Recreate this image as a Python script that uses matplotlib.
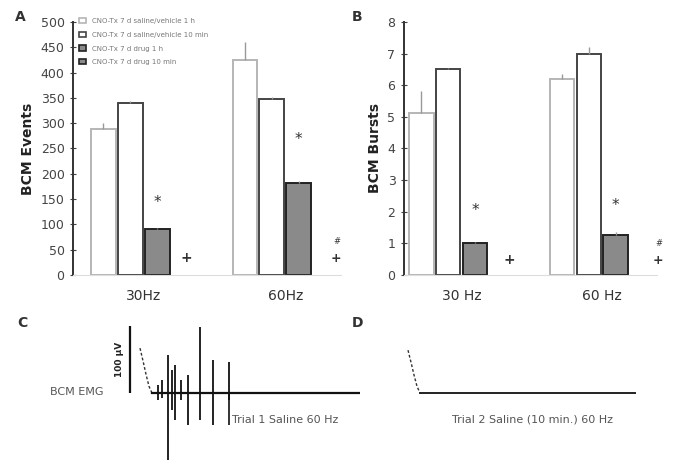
import matplotlib.pyplot as plt
from matplotlib.patches import Patch
import numpy as np

# bar data: 4 conditions x 2 frequencies
conditions = ["CNO-Tx 7 d saline/vehicle 1 h", "CNO-Tx 7 d saline/vehicle 10 min",
              "CNO-Tx 7 d drug 1 h", "CNO-Tx 7 d drug 10 min"]
events = [[288, 340, 90, 0], [424, 348, 182, 0]]
events_err = [[12, 4, 3, 0], [36, 4, 3, 0]]
bursts = [[5.13, 6.5, 1.0, 0], [6.2, 7.0, 1.27, 0]]
bursts_err = [[0.7, 0.05, 0.05, 0], [0.15, 0.2, 0.1, 0]]
labels_a = ["30Hz", "60Hz"]
labels_b = ["30 Hz", "60 Hz"]

# EMG trace (panel C): spike times (ms) with top / bottom amplitude (uV)
spike_t = [9, 11, 14, 16, 17.5, 20.5, 24, 30, 36.5, 44.5]
spike_top = [12, 19, 57, 34, 42, 19, 27, 98, 49, 46]
spike_bot = [-10, -7, -100, -25, -40, -10, -48, -40, -48, -10]
artifact_t = [0, 1.5, 3, 4.5, 6]
artifact_c = [67, 48, 28, 10, 0]
artifact_d = [64, 46, 27, 10, 0]
trace_end_c = 110
trace_end_d = 113.5

fills = ["white", "white", "#8a8a8a", "#8a8a8a"]
edges = ["#b5b5b5", "#444444", "#222222", "#222222"]
width = 0.175
step = 0.19

fig = plt.figure(figsize=(6.81, 4.66), dpi=100)


def bar_panel(ax, vals, errs, ymax, yticks, ylabel, xlabels):
    for g in range(2):
        for i in range(4):
            x = g + (i - 1.5) * step
            lw = 1.4 if vals[g][i] > 0 else 0
            ax.bar(x, vals[g][i], width, color=fills[i], edgecolor=edges[i], linewidth=lw)
            if errs[g][i] > 0:
                ax.errorbar(x, vals[g][i], yerr=[[0], [errs[g][i]]], color="#999999",
                            capsize=0, elinewidth=1)
    ax.set_ylim(0, ymax)
    ax.set_yticks(yticks)
    ax.set_xticks([0, 1])
    ax.set_xticklabels(xlabels, fontsize=10, color="#333333")
    ax.set_ylabel(ylabel, fontsize=10, fontweight="bold", color="#222222")
    ax.tick_params(axis="y", direction="inout", length=5, labelsize=9, colors="#444444")
    ax.tick_params(axis="x", length=0, pad=10)
    ax.spines["top"].set_visible(False)
    ax.spines["right"].set_visible(False)
    ax.spines["left"].set_color("#333333")
    ax.spines["left"].set_linewidth(1.4)
    ax.spines["bottom"].set_color("#dddddd")


def mark(ax, x, y, s, size, bold=False):
    ax.text(x, y, s, ha="center", va="center", fontsize=size, color="#333333",
            fontweight="bold" if bold else "normal")


axA = fig.add_axes([0.107, 0.410, 0.393, 0.543])
bar_panel(axA, events, events_err, 500, np.arange(0, 501, 50), "BCM Events", labels_a)
axA.set_xlim(-0.50, 1.39)
mark(axA, 0 + 0.5 * step, 144, "*", 11)
mark(axA, 0 + 1.6 * step, 34, "+", 10, True)
mark(axA, 1 + 0.5 * step, 268, "*", 11)
mark(axA, 1 + 1.9 * step, 66, "#", 6)
mark(axA, 1 + 1.9 * step, 32, "+", 9, True)
handles = [Patch(facecolor=fills[i], edgecolor=edges[i], linewidth=1.2, label=conditions[i])
           for i in range(4)]
axA.legend(handles=handles, loc="upper left", bbox_to_anchor=(0.0, 1.04), fontsize=5,
           frameon=False, handlelength=1, handleheight=0.8, labelspacing=1.1,
           labelcolor="#777777")

axB = fig.add_axes([0.593, 0.410, 0.372, 0.543])
bar_panel(axB, bursts, bursts_err, 8, np.arange(0, 9, 1), "BCM Bursts", labels_b)
axB.set_xlim(-0.41, 1.39)
mark(axB, 0 + 0.5 * step, 2.05, "*", 11)
mark(axB, 0 + 1.8 * step, 0.47, "+", 10, True)
mark(axB, 1 + 0.5 * step, 2.2, "*", 11)
mark(axB, 1 + 2.1 * step, 1.0, "#", 6)
mark(axB, 1 + 2.1 * step, 0.45, "+", 9, True)

# panel C trace
axC = fig.add_axes([60 / 681, 0, 300 / 681, 156 / 466])
axC.set_xlim(-40, 110)
axC.set_ylim(-109, 124)
axC.axis("off")
axC.plot(artifact_t, artifact_c, color="#333333", lw=1, ls=(0, (2, 1.5)))
axC.plot([artifact_t[-1], trace_end_c], [0, 0], color="#111111", lw=1.6)
axC.vlines(spike_t, spike_bot, spike_top, color="#111111", lw=1.3)
axC.vlines(spike_t[-1], -48, 0, color="#111111", lw=1.2)
axC.vlines(-5, 0, 100, color="#111111", lw=1.6)
axC.text(-10, 50, "100 µV", rotation=90, ha="center", va="center", fontsize=6.5,
         fontweight="bold", color="#222222")
axC.text(-18, 2, "BCM EMG", ha="right", va="center", fontsize=8, color="#555555")
axC.text(46, -40, "Trial 1 Saline 60 Hz", ha="left", va="center", fontsize=8, color="#555555")

# panel D trace
axD = fig.add_axes([395 / 681, 0, 286 / 681, 156 / 466])
axD.set_xlim(-6.5, 136.5)
axD.set_ylim(-109, 124)
axD.axis("off")
axD.plot(artifact_t, artifact_d, color="#333333", lw=1, ls=(0, (2, 1.5)))
axD.plot([artifact_t[-1], trace_end_d], [0, 0], color="#222222", lw=1.4)
axD.text(62, -40, "Trial 2 Saline (10 min.) 60 Hz", ha="center", va="center", fontsize=8,
         color="#555555")

for lbl, x, y in [("A", 15, 17), ("B", 352, 17), ("C", 17, 323), ("D", 352, 323)]:
    fig.text(x / 681, 1 - y / 466, lbl, fontsize=10, fontweight="bold", color="#333333",
             va="center")

fig.savefig("out.png", dpi=100)
